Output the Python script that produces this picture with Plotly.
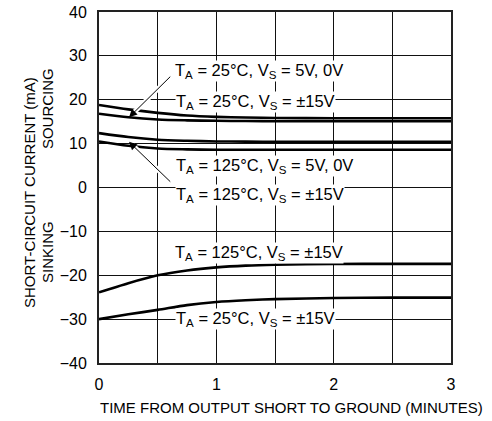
import plotly.graph_objects as go

# ---- data ----
time_min = [0, 0.25, 0.5, 0.75, 1.0, 1.25, 1.5, 2.0, 2.5, 3.0]
src_25c_pm15v = [18.8, 17.8, 17.0, 16.4, 16.1, 15.95, 15.85, 15.8, 15.8, 15.8]
src_25c_5v0v = [16.8, 16.0, 15.5, 15.3, 15.2, 15.15, 15.1, 15.1, 15.1, 15.1]
src_125c_5v0v = [12.4, 11.5, 10.9, 10.65, 10.5, 10.45, 10.4, 10.4, 10.4, 10.4]
src_125c_pm15v = [10.5, 9.5, 8.9, 8.7, 8.6, 8.6, 8.6, 8.6, 8.6, 8.6]
snk_125c_pm15v = [-23.9, -21.8, -20.0, -18.9, -18.2, -17.8, -17.6, -17.45, -17.4, -17.4]
snk_25c_pm15v = [-30.0, -28.9, -27.9, -26.8, -26.1, -25.7, -25.45, -25.2, -25.1, -25.1]

x_ticks = [0, 1, 2, 3]
y_ticks = [-40, -30, -20, -10, 0, 10, 20, 30, 40]

FONT = "Liberation Sans, Arial, sans-serif"

fig = go.Figure()
for ys in [src_25c_pm15v, src_25c_5v0v, src_125c_5v0v, src_125c_pm15v,
           snk_125c_pm15v, snk_25c_pm15v]:
    fig.add_trace(go.Scatter(x=time_min, y=ys, mode="lines",
                             line=dict(color="black", width=2.6, shape="spline", smoothing=0.8),
                             showlegend=False, hoverinfo="skip"))

ann = []
lbl = dict(xref="x", yref="y", showarrow=False, bgcolor="white", borderpad=0,
           font=dict(family=FONT, size=16.5, color="black"), xanchor="center", yanchor="middle")
labels = [
    ("T<sub>A</sub> = 25°C, V<sub>S</sub> = 5V, 0V", 1.36, 26.6),
    ("T<sub>A</sub> = 25°C, V<sub>S</sub> = ±15V", 1.33, 19.6),
    ("T<sub>A</sub> = 125°C, V<sub>S</sub> = 5V, 0V", 1.41, 5.0),
    ("T<sub>A</sub> = 125°C, V<sub>S</sub> = ±15V", 1.37, -1.8),
    ("T<sub>A</sub> = 125°C, V<sub>S</sub> = ±15V", 1.36, -14.9),
    ("T<sub>A</sub> = 25°C, V<sub>S</sub> = ±15V", 1.33, -29.9),
]

# arrows: white halo first, then black arrow
arrows = [((0.256, 16.0), (0.62, 25.6)), ((0.256, 10.4), (0.62, 1.0))]
for (hx, hy), (tx, ty) in arrows:
    ann.append(dict(x=hx, y=hy, ax=tx, ay=ty, xref="x", yref="y", axref="x", ayref="y",
                    text="", showarrow=True, arrowhead=0, arrowwidth=5, arrowcolor="white",
                    standoff=5))
for t, x, y in labels:
    ann.append(dict(lbl, text=t, x=x, y=y))
for (hx, hy), (tx, ty) in arrows:
    ann.append(dict(x=hx, y=hy, ax=tx, ay=ty, xref="x", yref="y", axref="x", ayref="y",
                    text="", showarrow=True, arrowhead=2, arrowsize=1.6, arrowwidth=1,
                    arrowcolor="black"))

side = dict(xref="paper", yref="paper", showarrow=False, textangle=-90,
            font=dict(family=FONT, size=15, color="black"), xanchor="center", yanchor="middle")
ann.append(dict(side, text="SHORT-CIRCUIT CURRENT (mA)", x=-0.199, y=0.487))
ann.append(dict(side, text="SOURCING", x=-0.148, y=0.726))
ann.append(dict(side, text="SINKING", x=-0.148, y=0.316))
ann.append(dict(xref="paper", yref="paper", showarrow=False,
                text="TIME FROM OUTPUT SHORT TO GROUND (MINUTES)", x=0.548, y=-0.128,
                font=dict(family=FONT, size=15, color="black"), xanchor="center", yanchor="middle"))

fig.update_layout(
    width=492, height=421,
    margin=dict(l=99, r=41, t=12, b=58),
    paper_bgcolor="white", plot_bgcolor="white",
    font=dict(family=FONT, size=16, color="black"),
    annotations=ann,
    xaxis=dict(range=[0, 3], tickvals=x_ticks, showgrid=True, gridcolor="#111", gridwidth=1,
               minor=dict(dtick=0.5, showgrid=True, gridcolor="#111", gridwidth=1),
               showline=True, mirror=True, linecolor="#222", linewidth=2, ticks="",
               ticklabelstandoff=6, zeroline=False, fixedrange=True, automargin=False),
    yaxis=dict(range=[-40, 40], tickvals=y_ticks, showgrid=True, gridcolor="#111", gridwidth=1,
               showline=True, mirror=True, linecolor="#222", linewidth=2, ticks="",
               ticklabelstandoff=7, zeroline=False, fixedrange=True, automargin=False),
)

fig.write_html("out.html", config={"displayModeBar": False},
               post_script="document.body.style.margin='0';document.body.style.padding='0';")
